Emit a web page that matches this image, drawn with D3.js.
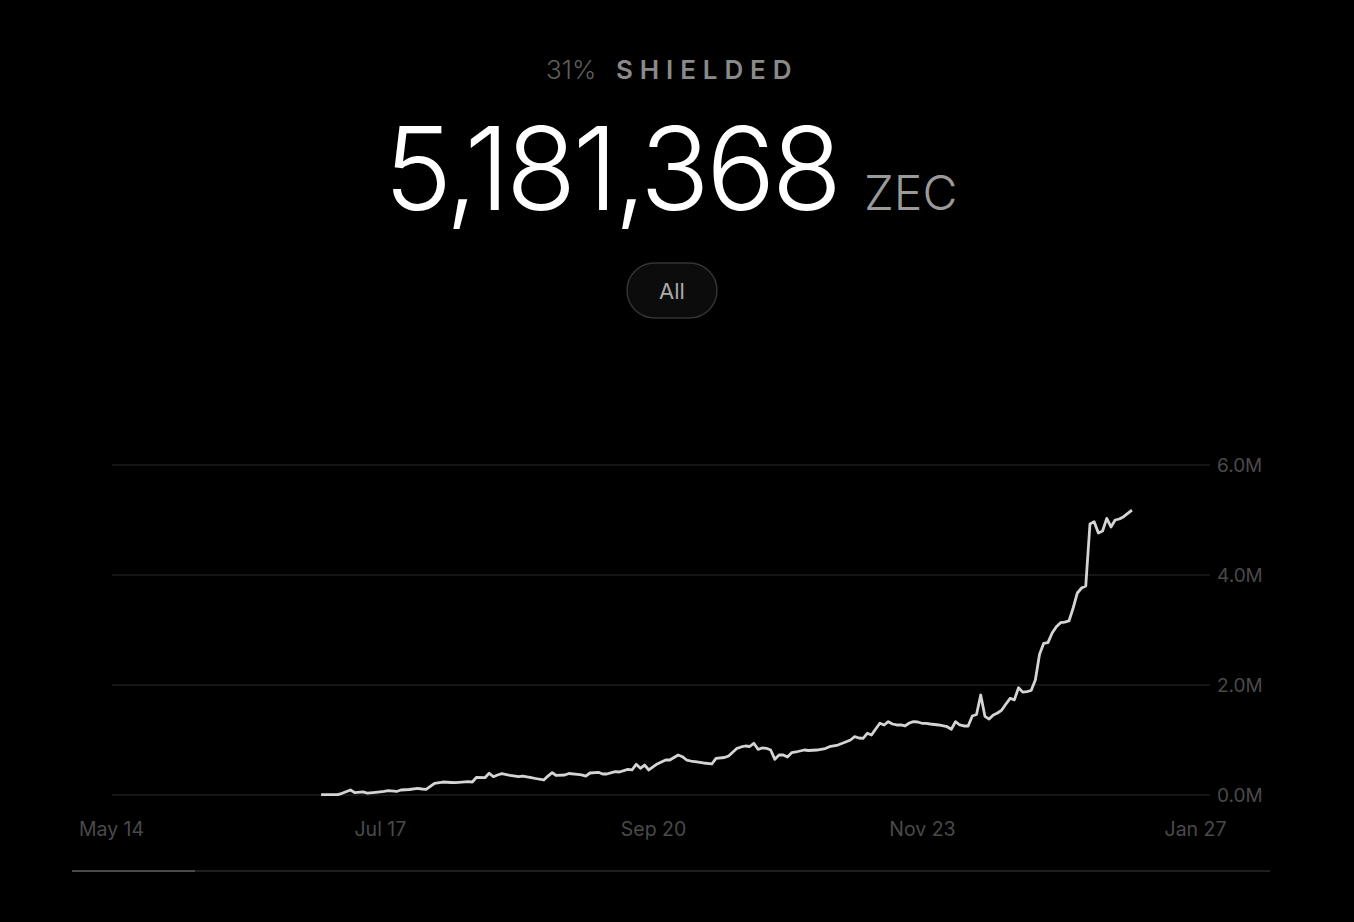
<!DOCTYPE html>
<html><head><meta charset="utf-8">
<script src="https://cdn.jsdelivr.net/npm/d3@7"></script>
<style>html,body{margin:0;background:#000;}svg{display:block}</style>
</head><body><svg id="c" width="1354" height="922"></svg>
<script>
// ---- data ----
const dates = [
"2025-07-03","2025-07-07","2025-07-08","2025-07-10","2025-07-11","2025-07-13","2025-07-14","2025-07-16","2025-07-18","2025-07-19",
"2025-07-21","2025-07-22","2025-07-24","2025-07-26","2025-07-27","2025-07-28","2025-07-30","2025-08-01","2025-08-03","2025-08-04",
"2025-08-07","2025-08-08","2025-08-09","2025-08-11","2025-08-12","2025-08-13","2025-08-14","2025-08-15","2025-08-17","2025-08-19",
"2025-08-20","2025-08-22","2025-08-23","2025-08-25","2025-08-26","2025-08-27","2025-08-28","2025-08-30","2025-08-31","2025-09-02",
"2025-09-03","2025-09-04","2025-09-05","2025-09-07","2025-09-08","2025-09-09","2025-09-11","2025-09-12","2025-09-14","2025-09-15",
"2025-09-16","2025-09-17","2025-09-18","2025-09-19","2025-09-21","2025-09-22","2025-09-23","2025-09-24","2025-09-26","2025-09-27",
"2025-09-28","2025-09-29","2025-09-30","2025-10-02","2025-10-04","2025-10-05","2025-10-07","2025-10-08","2025-10-10","2025-10-11",
"2025-10-12","2025-10-13","2025-10-14","2025-10-15","2025-10-16","2025-10-17","2025-10-18","2025-10-19","2025-10-20","2025-10-21",
"2025-10-22","2025-10-23","2025-10-24","2025-10-26","2025-10-27","2025-10-29","2025-10-31","2025-11-01","2025-11-03","2025-11-05",
"2025-11-06","2025-11-07","2025-11-08","2025-11-09","2025-11-10","2025-11-11","2025-11-12","2025-11-13","2025-11-14","2025-11-15",
"2025-11-16","2025-11-17","2025-11-18","2025-11-19","2025-11-20","2025-11-21","2025-11-22","2025-11-23","2025-11-24","2025-11-25",
"2025-11-26","2025-11-27","2025-11-29","2025-11-30","2025-12-01","2025-12-02","2025-12-03","2025-12-04","2025-12-05","2025-12-06",
"2025-12-07","2025-12-08","2025-12-09","2025-12-10","2025-12-11","2025-12-12","2025-12-13","2025-12-14","2025-12-15","2025-12-16",
"2025-12-17","2025-12-18","2025-12-19","2025-12-20","2025-12-21","2025-12-22","2025-12-23","2025-12-24","2025-12-25","2025-12-26",
"2025-12-27","2025-12-28","2025-12-29","2025-12-30","2025-12-31","2026-01-01","2026-01-02","2026-01-03","2026-01-04","2026-01-05",
"2026-01-06","2026-01-07","2026-01-08","2026-01-09","2026-01-10","2026-01-11","2026-01-12"
];
const shielded = [
5000,8000,31000,91000,42000,55000,36000,49000,64000,78000,
64000,91000,100000,122000,109000,104000,213000,236000,227000,224000,
242000,236000,322000,315000,395000,333000,364000,387000,355000,333000,
345000,315000,300000,273000,345000,405000,355000,364000,391000,376000,
364000,345000,400000,413000,382000,382000,424000,418000,467000,455000,
558000,485000,545000,455000,564000,600000,636000,636000,727000,696000,
636000,618000,605000,582000,564000,667000,682000,709000,849000,873000,
891000,882000,940000,831000,855000,849000,818000,649000,727000,727000,
691000,769000,782000,818000,809000,818000,845000,878000,909000,969000,
1000000,1060000,1036000,1031000,1122000,1091000,1200000,1304000,1273000,1333000,
1291000,1273000,1273000,1255000,1309000,1333000,1327000,1304000,1304000,1291000,
1282000,1273000,1242000,1195000,1333000,1273000,1255000,1255000,1436000,1464000,
1818000,1430000,1380000,1455000,1491000,1545000,1655000,1758000,1730000,1950000,
1870000,1880000,1900000,2090000,2560000,2758000,2770000,2945000,3060000,3133000,
3145000,3164000,3400000,3673000,3764000,3800000,4927000,4970000,4764000,4800000,
5030000,4873000,5000000,5018000,5060000,5122000,5181368
];
const yTickValues = [0, 2000000, 4000000, 6000000];
const xTickDates = ["2025-05-14","2025-07-17","2025-09-20","2025-11-23","2026-01-27"];
const xTickLabels = ["May 14","Jul 17","Sep 20","Nov 23","Jan 27"];
const shieldedPct = "31%";
const titleLabel = "SHIELDED";
const totalValue = 5181368;
const unitLabel = "ZEC";
const rangeButtons = ["All"];

// ---- drawing ----
const parse = d3.utcParse("%Y-%m-%d");
const data = dates.map((d,i)=>({date:parse(d), value:shielded[i]}));
const svg = d3.select("#c");
svg.append("rect").attr("width",1354).attr("height",922).attr("fill","#000");
const FONT = "Inter, 'Noto Sans', sans-serif";

const x = d3.scaleUtc().domain([parse(xTickDates[0]), parse(xTickDates[xTickDates.length-1])]).range([111,1195]);
const y = d3.scaleLinear().domain([0,6000000]).range([795,465]);

// gridlines
svg.append("g").selectAll("line").data(yTickValues).join("line")
  .attr("x1",112).attr("x2",1210).attr("y1",d=>y(d)).attr("y2",d=>y(d))
  .attr("stroke","#1c1c1c").attr("stroke-width",1.5);
// y labels
const yAxis = d3.axisRight(y).tickValues(yTickValues).tickSize(0)
  .tickFormat(v => (v/1e6).toFixed(1)+"M");
const gy = svg.append("g").attr("transform","translate(1210,0)").call(yAxis);
gy.select(".domain").remove();
gy.selectAll(".tick text").attr("x",7).attr("fill","#4a4a4a").attr("font-family",FONT).attr("font-size",19).attr("dy","0.35em");

// x labels
const xAxis = d3.axisBottom(x).tickValues(xTickDates.map(parse)).tickSize(0)
  .tickFormat((d,i)=>xTickLabels[i]);
const gx = svg.append("g").attr("transform","translate(0,818)").call(xAxis);
gx.select(".domain").remove();
gx.selectAll(".tick text").attr("fill","#4a4a4a").attr("font-family",FONT).attr("font-size",19.5).attr("dy","0.71em").attr("y",4);

// line
svg.append("path").datum(data)
  .attr("d", d3.line().x(d=>x(d.date)).y(d=>y(d.value)))
  .attr("fill","none").attr("stroke","#d4d4d4").attr("stroke-width",2.8).attr("stroke-linejoin","round");

// bottom track
svg.append("line").attr("x1",72).attr("x2",1270).attr("y1",871).attr("y2",871).attr("stroke","#1e1e1e").attr("stroke-width",2);
svg.append("line").attr("x1",72).attr("x2",195).attr("y1",871).attr("y2",871).attr("stroke","#4a4a4a").attr("stroke-width",2);

// header
svg.append("text").attr("x",546).attr("y",79).attr("font-family",FONT).attr("font-size",26).attr("font-weight",300)
  .attr("fill","#5e5e5e").text(shieldedPct);
svg.append("text").attr("x",616).attr("y",79).attr("font-family",FONT).attr("font-size",26).attr("font-weight",600)
  .attr("fill","#8a8a8a").attr("letter-spacing",6.9).text(titleLabel);

const totalText = d3.format(",")(totalValue);
const big = svg.append("text").attr("x",384).attr("y",210).attr("font-family",FONT).attr("font-size",115).attr("font-weight",300).attr("fill","#fff")
  .text(totalText);
const bw = big.node().getComputedTextLength();
big.attr("letter-spacing", (458-bw)/(totalText.length - 1));
svg.append("text").attr("x",864).attr("y",210).attr("font-family",FONT).attr("font-size",48).attr("font-weight",300).attr("fill","#9a9a9a").text(unitLabel);

// range button
const b = svg.append("g");
b.append("rect").attr("x",627).attr("y",263).attr("width",90).attr("height",55).attr("rx",27.5)
  .attr("fill","#0c0c0c").attr("stroke","#333").attr("stroke-width",1.5);
b.append("text").attr("x",672).attr("y",291).attr("dy","0.35em").attr("text-anchor","middle")
  .attr("font-family",FONT).attr("font-size",22).attr("fill","#aaa").text(rangeButtons[0]);
</script></body></html>
